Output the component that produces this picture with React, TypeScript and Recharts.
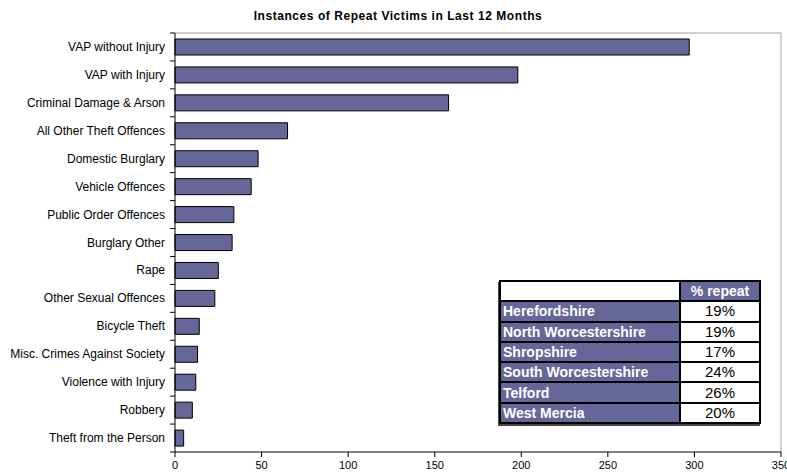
import React from 'react';
import { BarChart, Bar, XAxis, YAxis, CartesianGrid } from 'recharts';

const categories = [
  'VAP without Injury',
  'VAP with Injury',
  'Criminal Damage & Arson',
  'All Other Theft Offences',
  'Domestic Burglary',
  'Vehicle Offences',
  'Public Order Offences',
  'Burglary Other',
  'Rape',
  'Other Sexual Offences',
  'Bicycle Theft',
  'Misc. Crimes Against Society',
  'Violence with Injury',
  'Robbery',
  'Theft from the Person',
];
const values = [297, 198, 158, 65, 48, 44, 34, 33, 25, 23, 14, 13, 12, 10, 5];
const xTicks = [0, 50, 100, 150, 200, 250, 300, 350];

const regions = ['Herefordshire', 'North Worcestershire', 'Shropshire', 'South Worcestershire', 'Telford', 'West Mercia'];
const repeatPct = ['19%', '19%', '17%', '24%', '26%', '20%'];
const tableHeader = '% repeat';
const title = 'Instances of Repeat Victims in Last 12 Months';

const data = categories.map((name, i) => ({ name, value: values[i] }));

const W = 787;
const H = 472;
const TOP = 33;
const BOTTOM = 20;
const AXIS_W = 175;
const FONT = '"Liberation Sans", Arial, sans-serif';
const PURPLE = '#666699';
const BAND = (H - TOP - BOTTOM) / categories.length;

const YTick = (props: any) => {
  const { x, y, payload, index } = props;
  const lx0 = x + 4;
  const lx1 = x + 9;
  return (
    <g>
      <text x={x - 1} y={y} textAnchor="end" dominantBaseline="central" fontSize={12} fill="#000" fontFamily={FONT}>
        {payload.value}
      </text>
      <line x1={lx0} x2={lx1} y1={y - BAND / 2} y2={y - BAND / 2} stroke="#000" />
      {index === categories.length - 1 && (
        <line x1={lx0} x2={lx1} y1={y + BAND / 2} y2={y + BAND / 2} stroke="#000" />
      )}
    </g>
  );
};

const cellBorder = '2px solid #000';

export default function App() {
  return (
    <div style={{ position: 'absolute', left: 0, top: 0, width: W, height: H, background: '#fff', fontFamily: FONT, overflow: 'hidden' }}>
      <div style={{ position: 'absolute', left: 0, top: 9, width: 796, textAlign: 'center', fontSize: 12, fontWeight: 'bold', lineHeight: '14px', letterSpacing: '0.55px' }}>
        {title}
      </div>
      <BarChart
        width={W}
        height={H}
        data={data}
        layout="vertical"
        margin={{ top: TOP, right: 6, bottom: 0, left: 0 }}
        barSize={16}
      >
        <CartesianGrid
          stroke="#a0a0a0"
          fill="none"
          horizontalCoordinatesGenerator={(p: any) => [p.offset.top]}
          verticalCoordinatesGenerator={(p: any) => [p.offset.left + p.offset.width]}
        />
        <XAxis
          type="number"
          domain={[0, 350]}
          ticks={xTicks}
          interval={0}
          height={BOTTOM}
          tickSize={5}
          tickMargin={4}
          stroke="#000"
          tick={{ fontSize: 11, fill: '#000', fontFamily: FONT }}
          axisLine={{ stroke: '#000' }}
          tickLine={{ stroke: '#000' }}
        />
        <YAxis
          type="category"
          dataKey="name"
          width={AXIS_W}
          interval={0}
          tickSize={5}
          tickMargin={4}
          tickLine={false}
          axisLine={{ stroke: '#000' }}
          tick={<YTick />}
        />
        <Bar dataKey="value" fill={PURPLE} stroke="#000" strokeWidth={1} isAnimationActive={false} />
      </BarChart>
      <table
        style={{
          position: 'absolute',
          left: 499,
          top: 280,
          width: 262,
          height: 144,
          borderCollapse: 'collapse',
          border: cellBorder,
          fontFamily: FONT,
          boxShadow: '-1px 2px 0 #444',
        }}
      >
        <tbody>
          <tr>
            <td style={{ width: 178, border: cellBorder, background: '#fff', padding: 0 }}></td>
            <td style={{ border: cellBorder, background: PURPLE, color: '#fff', fontWeight: 'bold', fontSize: 14, textAlign: 'center', padding: 0 }}>
              {tableHeader}
            </td>
          </tr>
          {regions.map((r, i) => (
            <tr key={r}>
              <td style={{ border: cellBorder, background: PURPLE, color: '#fff', fontWeight: 'bold', fontSize: 14, padding: '0 0 0 2px', lineHeight: '16px' }}>
                {r}
              </td>
              <td style={{ border: cellBorder, background: '#fff', color: '#000', fontSize: 15, textAlign: 'center', padding: 0, lineHeight: '16px' }}>
                {repeatPct[i]}
              </td>
            </tr>
          ))}
        </tbody>
      </table>
    </div>
  );
}
